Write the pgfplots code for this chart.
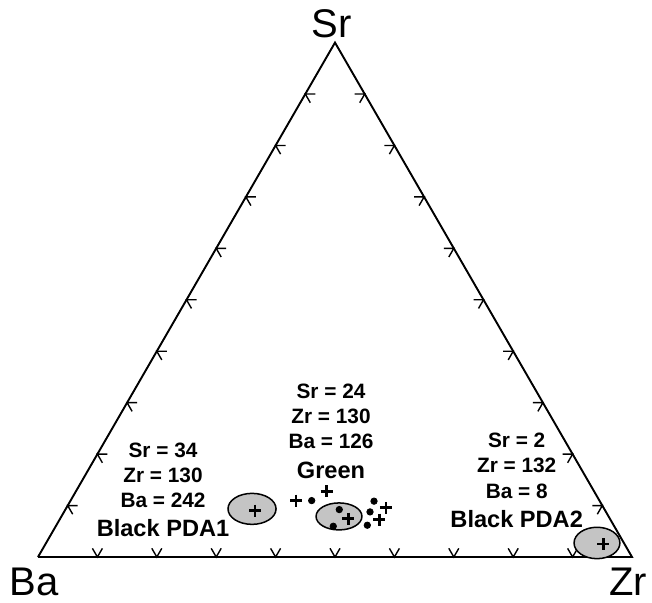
\documentclass[border=0pt]{standalone}
\usepackage{pgfplots}
\usepackage{pgfplotstable}
\usepackage{fontspec}
\setmainfont{Liberation Sans}
\pgfplotsset{compat=1.18}
\usepgfplotslibrary{ternary}
\usetikzlibrary{calc}

% tick: two short grid stubs meeting on the edge
\pgfdeclareplotmark{tick v}{%
  \pgfpathmoveto{\pgfqpointpolar{60}{\pgfplotmarksize}}%
  \pgfpathlineto{\pgfpointorigin}%
  \pgfpathlineto{\pgfqpointpolar{120}{\pgfplotmarksize}}%
  \pgfusepathqstroke}

\pgfplotstableread{
Sr Zr Ba
0 0 1
0 1 0
1 0 0
0 0 1
}\tri

\pgfplotstableread{
Sr Zr Ba
0 0.1 0.9
0 0.2 0.8
0 0.3 0.7
0 0.4 0.6
0 0.5 0.5
0 0.6 0.4
0 0.7 0.3
0 0.8 0.2
0 0.9 0.1
}\tickbottom

\pgfplotstableread{
Sr Zr Ba
0.1 0 0.9
0.2 0 0.8
0.3 0 0.7
0.4 0 0.6
0.5 0 0.5
0.6 0 0.4
0.7 0 0.3
0.8 0 0.2
0.9 0 0.1
}\tickleft

\pgfplotstableread{
Sr Zr Ba
0.1 0.9 0
0.2 0.8 0
0.3 0.7 0
0.4 0.6 0
0.5 0.5 0
0.6 0.4 0
0.7 0.3 0
0.8 0.2 0
0.9 0.1 0
}\tickright

% fields (ellipses)
\pgfplotstableread{
Sr Zr Ba
0.0936 0.3135 0.5929
}\fieldA
\pgfplotstableread{
Sr Zr Ba
0.0789 0.4673 0.4538
}\fieldG
\pgfplotstableread{
Sr Zr Ba
0.0273 0.9274 0.0453
}\fieldB

\pgfplotstableread{
Sr Zr Ba
0.0903 0.3202 0.5895
0.0747 0.4851 0.4402
0.0253 0.9390 0.0357
0.1097 0.3795 0.5108
0.1281 0.4220 0.4499
0.0955 0.5381 0.3664
0.0727 0.5382 0.3891
}\pluses

\pgfplotstableread{
Sr Zr Ba
0.0922 0.4611 0.4467
0.0598 0.4672 0.4730
0.1097 0.4059 0.4844
0.1086 0.5114 0.3800
0.0877 0.5151 0.3972
0.0618 0.5235 0.4147
}\dots

\begin{document}
\begin{tikzpicture}[
  vals/.style={anchor=base, inner sep=0pt, font=\bfseries\fontsize{10.4}{12}\selectfont},
  names/.style={anchor=base, inner sep=0pt, font=\bfseries\fontsize{11.8}{14}\selectfont},
  corner/.style={anchor=base, inner sep=0pt, font=\fontsize{20}{24}\selectfont}]
\begin{ternaryaxis}[
  scale only axis,
  width=297pt, height=257.2pt,
  hide axis,
  clip=false,
]
\addplot3[black, line width=0.95pt, mark=none] table[x=Sr, y=Ba, z=Zr] {\tri}
  node[pos=0, coordinate] (BA) {};
\addplot3[only marks, mark=tick v, mark size=5pt, line width=0.7pt,
  mark options={black}] table[x=Sr, y=Ba, z=Zr] {\tickbottom};
\addplot3[only marks, mark=tick v, mark size=5pt, line width=0.7pt,
  mark options={black, rotate=-120}] table[x=Sr, y=Ba, z=Zr] {\tickleft};
\addplot3[only marks, mark=tick v, mark size=5pt, line width=0.7pt,
  mark options={black, rotate=120}] table[x=Sr, y=Ba, z=Zr] {\tickright};
\addplot3[only marks, mark=*, mark size=7.75pt,
  mark options={xscale=1.55, fill=black!23, draw=black, line width=0.75pt}]
  table[x=Sr, y=Ba, z=Zr] {\fieldA};
\addplot3[only marks, mark=*, mark size=6.75pt,
  mark options={xscale=1.7, fill=black!23, draw=black, line width=0.75pt}]
  table[x=Sr, y=Ba, z=Zr] {\fieldG};
\addplot3[only marks, mark=*, mark size=7.85pt,
  mark options={xscale=1.46, fill=black!23, draw=black, line width=0.75pt}]
  table[x=Sr, y=Ba, z=Zr] {\fieldB};
\addplot3[only marks, mark=+, mark size=3pt,
  mark options={black, line width=1.4pt}] table[x=Sr, y=Ba, z=Zr] {\pluses};
\addplot3[only marks, mark=*, mark size=1.6pt,
  mark options={black}] table[x=Sr, y=Ba, z=Zr] {\dots};
\end{ternaryaxis}

\path ($(BA)+(-19pt,-22.5pt)$) rectangle ($(BA)+(307pt,278.5pt)$);

\node[corner] at ($(BA)+(146.75pt,260pt)$) {Sr};
\node[corner] at ($(BA)+(-2pt,-19pt)$) {Ba};
\node[corner] at ($(BA)+(295pt,-19pt)$) {Zr};

\node[vals]  at ($(BA)+(146.5pt,79.5pt)$) {Sr = 24};
\node[vals]  at ($(BA)+(146.5pt,67pt)$)   {Zr = 130};
\node[vals]  at ($(BA)+(146.5pt,54.5pt)$) {Ba = 126};
\node[names] at ($(BA)+(146.5pt,39.5pt)$) {Green};

\node[vals]  at ($(BA)+(62.5pt,49.85pt)$) {Sr = 34};
\node[vals]  at ($(BA)+(62.5pt,37.5pt)$)  {Zr = 130};
\node[vals]  at ($(BA)+(62.5pt,24.85pt)$) {Ba = 242};
\node[names] at ($(BA)+(62.5pt,10.35pt)$) {Black PDA1};

\node[vals]  at ($(BA)+(239.35pt,55pt)$)   {Sr = 2};
\node[vals]  at ($(BA)+(239.35pt,42.35pt)$) {Zr = 132};
\node[vals]  at ($(BA)+(239.35pt,29.5pt)$)  {Ba = 8};
\node[names] at ($(BA)+(239.35pt,14.85pt)$) {Black PDA2};
\end{tikzpicture}
\end{document}
